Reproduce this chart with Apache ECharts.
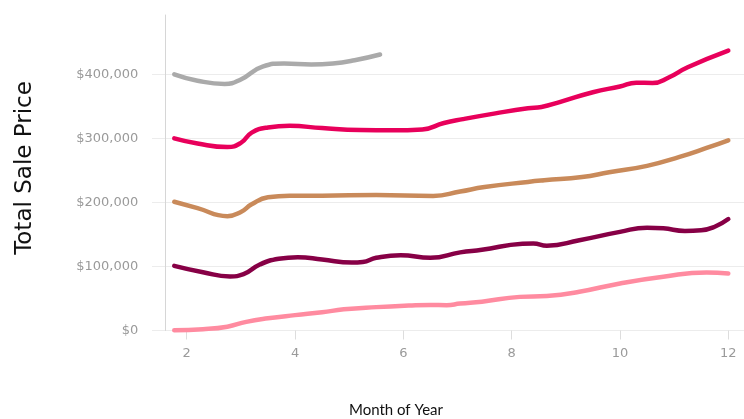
<!DOCTYPE html>
<html>
<head>
<meta charset="utf-8">
<script src="https://cdn.jsdelivr.net/npm/echarts@6/dist/echarts.min.js"></script>
<style>
  html, body { margin: 0; padding: 0; background: #ffffff; }
  #chart { width: 744px; height: 419px; }
</style>
</head>
<body>
<div id="chart"></div>
<script>
// Month positions and total sale prices (in thousands of dollars) for each line
const greyMonths   = [1.77, 2.2, 2.7, 3.0, 3.4, 3.8, 4.3, 4.7, 5.1, 5.57];
const greyPrices   = [400, 390, 385, 392, 412, 417, 415.5, 417, 422, 431];

const redMonths    = [1.77, 2.2, 2.75, 3.0, 3.2, 3.5, 3.9, 4.5, 5.2, 5.8, 6.35, 6.75, 7.1, 7.7, 8.3, 8.55, 8.9, 9.5, 10.0, 10.3, 10.6, 10.9, 11.25, 12.0];
const redPrices    = [300, 292, 286.5, 293, 309, 317, 319.5, 316, 313, 312.5, 314, 324, 330, 339, 347, 349, 357, 372, 381, 387, 386.5, 395, 411, 437];

const tanMonths    = [1.77, 2.2, 2.75, 3.0, 3.2, 3.5, 3.9, 4.5, 5.5, 6.55, 7.05, 7.5, 8.3, 8.6, 9.3, 9.8, 10.5, 11.1, 11.6, 12.0];
const tanPrices    = [201, 191, 178.5, 185, 197, 208, 210.5, 210.5, 211.5, 210, 217, 224, 232, 234.5, 239.5, 247, 257, 271, 285, 297];

const maroonMonths = [1.77, 2.3, 2.8, 3.05, 3.35, 3.7, 4.05, 4.5, 5.05, 5.25, 5.5, 5.95, 6.5, 7.05, 7.45, 8.2, 8.4, 8.65, 9.25, 10.0, 10.5, 10.8, 11.2, 11.5, 11.75, 12.0];
const maroonPrices = [101, 91, 84.5, 88, 103, 112, 114.5, 111, 106, 107, 113.5, 117.5, 113.5, 122, 126, 135.5, 136, 132.5, 141, 154, 160.5, 159.5, 155.5, 156.5, 162, 174];

const pinkMonths   = [1.77, 2.3, 2.75, 3.1, 3.5, 4.0, 4.5, 4.9, 5.5, 6.1, 6.5, 6.8, 7.05, 7.45, 8.15, 8.65, 9.25, 10.0, 10.8, 11.6, 12.0];
const pinkPrices   = [0.5, 2, 6, 13.5, 19, 24, 28.5, 33, 36.5, 39, 40, 39.5, 42, 45, 52.5, 54, 60.5, 73.5, 84, 90.5, 89];

// Axis tick values
const monthTicks = [2, 4, 6, 8, 10, 12];
const priceTicks = [0, 100000, 200000, 300000, 400000];

const toPoints = (months, prices) => months.map((m, i) => [m, prices[i] * 1000]);

const lines = [
  { name: 'grey',   color: '#aaaaaa', data: toPoints(greyMonths, greyPrices) },
  { name: 'red',    color: '#e8005b', data: toPoints(redMonths, redPrices) },
  { name: 'tan',    color: '#c98a5a', data: toPoints(tanMonths, tanPrices) },
  { name: 'maroon', color: '#870046', data: toPoints(maroonMonths, maroonPrices) },
  { name: 'pink',   color: '#ff8ba0', data: toPoints(pinkMonths, pinkPrices) }
];

const fmtMoney = v => '$' + Math.round(v).toString().replace(/\B(?=(\d{3})+(?!\d))/g, ',');

const chart = echarts.init(document.getElementById('chart'), null, { renderer: 'canvas' });

chart.setOption({
  animation: false,
  backgroundColor: '#ffffff',
  grid: { left: 152, right: 0, top: 15, bottom: 88.5, containLabel: false },
  xAxis: {
    type: 'value',
    min: 1.359,
    max: 12.29,
    axisLine: { show: false },
    axisTick: {
      show: true, length: 9, customValues: monthTicks,
      lineStyle: { color: '#dddddd', width: 1 }
    },
    axisLabel: {
      customValues: monthTicks,
      margin: 17,
      color: '#9a9a9a',
      fontFamily: 'DejaVu Sans',
      fontSize: 13
    },
    splitLine: { show: false }
  },
  yAxis: {
    type: 'value',
    min: 0,
    max: 492600,
    offset: -13.7,
    axisLine: { show: true, lineStyle: { color: '#d6d6d6', width: 1 } },
    axisTick: { show: false, customValues: priceTicks },
    axisLabel: {
      customValues: priceTicks,
      margin: 27.4,
      color: '#9a9a9a',
      fontFamily: 'DejaVu Sans',
      fontSize: 13,
      formatter: fmtMoney
    },
    splitLine: { show: true, lineStyle: { color: '#ececec', width: 1 } }
  },
  graphic: [
    {
      type: 'text',
      x: 37, y: 168,
      rotation: Math.PI / 2,
      style: {
        text: 'Total Sale Price',
        fill: '#111111',
        font: '23px "DejaVu Sans"',
        textAlign: 'center',
        textVerticalAlign: 'bottom'
      }
    },
    {
      type: 'text',
      x: 396, y: 410,
      style: {
        text: 'Month of Year',
        fill: '#111111',
        font: '15px Lato',
        textAlign: 'center',
        textVerticalAlign: 'middle'
      }
    }
  ],
  series: lines.map(l => ({
    name: l.name,
    type: 'line',
    data: l.data,
    smooth: 0.5,
    showSymbol: false,
    clip: false,
    lineStyle: { color: l.color, width: 4.5, cap: 'round', join: 'round' },
    itemStyle: { color: l.color }
  }))
});
</script>
</body>
</html>
